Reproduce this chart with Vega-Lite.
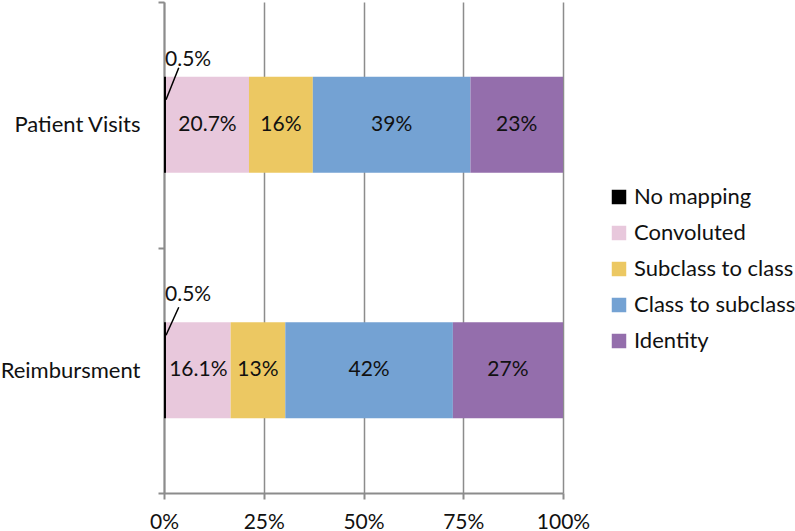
{
  "$schema": "https://vega.github.io/schema/vega-lite/v6.json",
  "autosize": {"type": "none"},
  "padding": {"left": 164, "top": 2, "right": 232, "bottom": 38},
  "width": 399,
  "height": 491,
  "background": "white",
  "config": {
    "font": "Lato",
    "view": {"stroke": null},
    "axis": {"labelFont": "Lato", "labelFontSize": 21, "labelColor": "#111"}
  },
  "data": {
    "values": [
      {"cat": "Patient Visits", "type": "No mapping", "order": 1, "value": 0.5, "label": "0.5%"},
      {"cat": "Patient Visits", "type": "Convoluted", "order": 2, "value": 20.8, "label": "20.7%"},
      {"cat": "Patient Visits", "type": "Subclass to class", "order": 3, "value": 16.0, "label": "16%"},
      {"cat": "Patient Visits", "type": "Class to subclass", "order": 4, "value": 39.5, "label": "39%"},
      {"cat": "Patient Visits", "type": "Identity", "order": 5, "value": 23.2, "label": "23%"},
      {"cat": "Reimbursment", "type": "No mapping", "order": 1, "value": 0.5, "label": "0.5%"},
      {"cat": "Reimbursment", "type": "Convoluted", "order": 2, "value": 16.2, "label": "16.1%"},
      {"cat": "Reimbursment", "type": "Subclass to class", "order": 3, "value": 13.7, "label": "13%"},
      {"cat": "Reimbursment", "type": "Class to subclass", "order": 4, "value": 42.0, "label": "42%"},
      {"cat": "Reimbursment", "type": "Identity", "order": 5, "value": 27.6, "label": "27%"}
    ]
  },
  "transform": [
    {"stack": "value", "groupby": ["cat"], "sort": [{"field": "order", "order": "ascending"}], "as": ["x0", "x1"]},
    {"calculate": "(datum.x0 + datum.x1) / 2", "as": "mid"}
  ],
  "encoding": {
    "y": {
      "field": "cat",
      "type": "nominal",
      "sort": ["Patient Visits", "Reimbursment"],
      "scale": {"paddingInner": 0, "paddingOuter": 0},
      "axis": {
        "title": null,
        "tickBand": "extent",
        "domainColor": "#8c8c8c",
        "domainWidth": 2,
        "tickColor": "#8c8c8c",
        "tickWidth": 2,
        "tickSize": 6,
        "labelPadding": 18,
        "labelFontSize": 22,
        "grid": false
      }
    }
  },
  "layer": [
    {
      "mark": {"type": "bar", "height": {"band": 0.391}},
      "encoding": {
        "x": {
          "field": "x0",
          "type": "quantitative",
          "scale": {"domain": [0, 100], "nice": false},
          "axis": {
            "title": null,
            "values": [0, 25, 50, 75, 100],
            "labelExpr": "datum.value + '%'",
            "grid": true,
            "gridColor": "#8c8c8c",
            "gridWidth": 1.5,
            "domainColor": "#8c8c8c",
            "domainWidth": 2,
            "tickColor": "#8c8c8c",
            "tickWidth": 2,
            "tickSize": 6,
            "labelPadding": 12,
            "labelFlush": false
          }
        },
        "x2": {"field": "x1"},
        "color": {
          "field": "type",
          "type": "nominal",
          "scale": {
            "domain": ["No mapping", "Convoluted", "Subclass to class", "Class to subclass", "Identity"],
            "range": ["#000000", "#E8C8DC", "#ECC862", "#74A2D3", "#946EAC"]
          },
          "legend": {
            "title": null,
            "orient": "none",
            "legendX": 444,
            "legendY": 184,
            "symbolType": "square",
            "symbolSize": 210,
            "symbolStrokeWidth": 0,
            "labelFont": "Lato",
            "labelFontSize": 22,
            "labelColor": "#111",
            "labelOffset": 4,
            "labelLimit": 300,
            "rowPadding": 14
          }
        }
      }
    },
    {
      "transform": [{"filter": "datum.type != 'No mapping'"}],
      "mark": {"type": "text", "fontSize": 21, "color": "#111", "baseline": "middle", "align": "center"},
      "encoding": {
        "x": {"field": "mid", "type": "quantitative"},
        "text": {"field": "label"}
      }
    },
    {
      "transform": [{"filter": "datum.type == 'No mapping' && datum.cat == 'Patient Visits'"}],
      "mark": {"type": "rule", "color": "#000", "strokeWidth": 1.5, "yOffset": -25, "y2Offset": -57},
      "encoding": {
        "x": {"datum": 0.5, "type": "quantitative"},
        "x2": {"datum": 3.7},
        "y2": {"field": "cat"}
      }
    },
    {
      "transform": [{"filter": "datum.type == 'No mapping' && datum.cat == 'Reimbursment'"}],
      "mark": {"type": "rule", "color": "#000", "strokeWidth": 1.5, "yOffset": -35, "y2Offset": -63},
      "encoding": {
        "x": {"datum": 0.5, "type": "quantitative"},
        "x2": {"datum": 3.7},
        "y2": {"field": "cat"}
      }
    },
    {
      "transform": [{"filter": "datum.type == 'No mapping' && datum.cat == 'Patient Visits'"}],
      "mark": {"type": "text", "fontSize": 21, "color": "#111", "baseline": "middle", "align": "left", "dx": 1, "yOffset": -65},
      "encoding": {
        "x": {"datum": 0, "type": "quantitative"},
        "text": {"field": "label"}
      }
    },
    {
      "transform": [{"filter": "datum.type == 'No mapping' && datum.cat == 'Reimbursment'"}],
      "mark": {"type": "text", "fontSize": 21, "color": "#111", "baseline": "middle", "align": "left", "dx": 1, "yOffset": -75},
      "encoding": {
        "x": {"datum": 0, "type": "quantitative"},
        "text": {"field": "label"}
      }
    }
  ]
}
